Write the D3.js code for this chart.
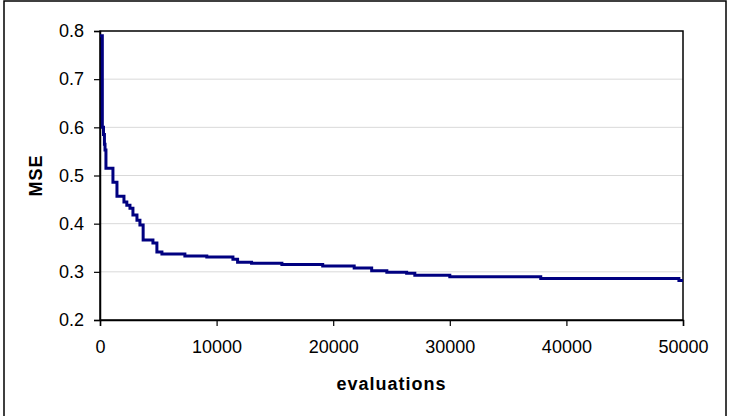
<!DOCTYPE html>
<html>
<head>
<meta charset="utf-8">
<script src="https://cdn.jsdelivr.net/npm/d3@7"></script>
<style>
  html, body { margin: 0; padding: 0; background: #fff; }
  svg { display: block; font-family: "Liberation Sans", Arial, sans-serif; }
</style>
</head>
<body>
<svg id="chart" width="730" height="416"></svg>
<script>
// evaluations at which the best MSE changes (step after)
const evaluations = [0, 200, 300, 380, 430, 510, 1110, 1455, 2055, 2300, 2570, 2825, 3170, 3425, 3700, 4540, 4880, 5310, 7280, 9160, 11400, 11800, 13000, 15600, 19100, 21800, 23300, 24600, 26300, 27000, 30000, 37800, 49650, 50000];
const mse = [0.79, 0.60, 0.585, 0.565, 0.553, 0.515, 0.486, 0.457, 0.445, 0.438, 0.432, 0.418, 0.407, 0.397, 0.366, 0.360, 0.341, 0.337, 0.333, 0.331, 0.326, 0.320, 0.318, 0.315, 0.312, 0.308, 0.302, 0.299, 0.297, 0.293, 0.290, 0.286, 0.282, 0.282];
const xTicks = [0, 10000, 20000, 30000, 40000, 50000];
const yTicks = [0.2, 0.3, 0.4, 0.5, 0.6, 0.7, 0.8];
const xTitle = "evaluations";
const yTitle = "MSE";

const svg = d3.select("#chart");
const W = 730, H = 416;
const m = { left: 100, right: 730 - 683, top: 31, bottom: 416 - 320 };

// outer frame
svg.append("rect").attr("x", 4).attr("y", 1).attr("width", 722).attr("height", 430)
  .attr("fill", "none").attr("stroke", "#000").attr("stroke-width", 1.5);

const x = d3.scaleLinear().domain([0, 50000]).range([m.left, W - m.right]);
const y = d3.scaleLinear().domain([0.2, 0.8]).range([H - m.bottom, m.top]);

// gridlines
svg.append("g").selectAll("line").data(yTicks.filter(t => t > 0.2 && t < 0.8)).join("line")
  .attr("x1", x(0)).attr("x2", x(50000))
  .attr("y1", d => y(d)).attr("y2", d => y(d))
  .attr("stroke", "#d9d9d9").attr("stroke-width", 1);

// plot border
svg.append("rect").attr("x", x(0)).attr("y", y(0.8))
  .attr("width", x(50000) - x(0)).attr("height", y(0.2) - y(0.8))
  .attr("fill", "none").attr("stroke", "#000").attr("stroke-width", 1.5);

// axes
const xAxis = svg.append("g").attr("transform", `translate(0,${y(0.2)})`)
  .call(d3.axisBottom(x).tickValues(xTicks).tickFormat(d3.format("d")).tickSize(6).tickPadding(14));
const yAxis = svg.append("g").attr("transform", `translate(${x(0)},0)`)
  .call(d3.axisLeft(y).tickValues(yTicks).tickFormat(d3.format(".1f")).tickSize(6).tickPadding(10));
[xAxis, yAxis].forEach(g => {
  g.select(".domain").attr("stroke", "#000").attr("stroke-width", 1.5);
  g.selectAll(".tick line").attr("stroke", "#000").attr("stroke-width", 1.2);
  g.selectAll(".tick text").attr("fill", "#000")
    .style("font-family", '"Liberation Sans", Arial, sans-serif').style("font-size", "18px");
});

// line
const data = evaluations.map((e, i) => ({ e, v: mse[i] }));
svg.append("path").datum(data)
  .attr("fill", "none").attr("stroke", "#000080").attr("stroke-width", 3)
  .attr("stroke-linejoin", "miter")
  .attr("d", d3.line().x(d => x(d.e)).y(d => y(d.v)).curve(d3.curveStepAfter));

// titles
svg.append("text").attr("x", (x(0) + x(50000)) / 2).attr("y", 390)
  .attr("text-anchor", "middle").style("font-size", "18px").style("font-weight", "bold")
  .style("letter-spacing", "1px").text(xTitle);
svg.append("text").attr("transform", `translate(42,${(y(0.2) + y(0.8)) / 2}) rotate(-90)`)
  .attr("text-anchor", "middle").style("font-size", "18px").style("font-weight", "bold")
  .style("letter-spacing", "1px").text(yTitle);
</script>
</body>
</html>
